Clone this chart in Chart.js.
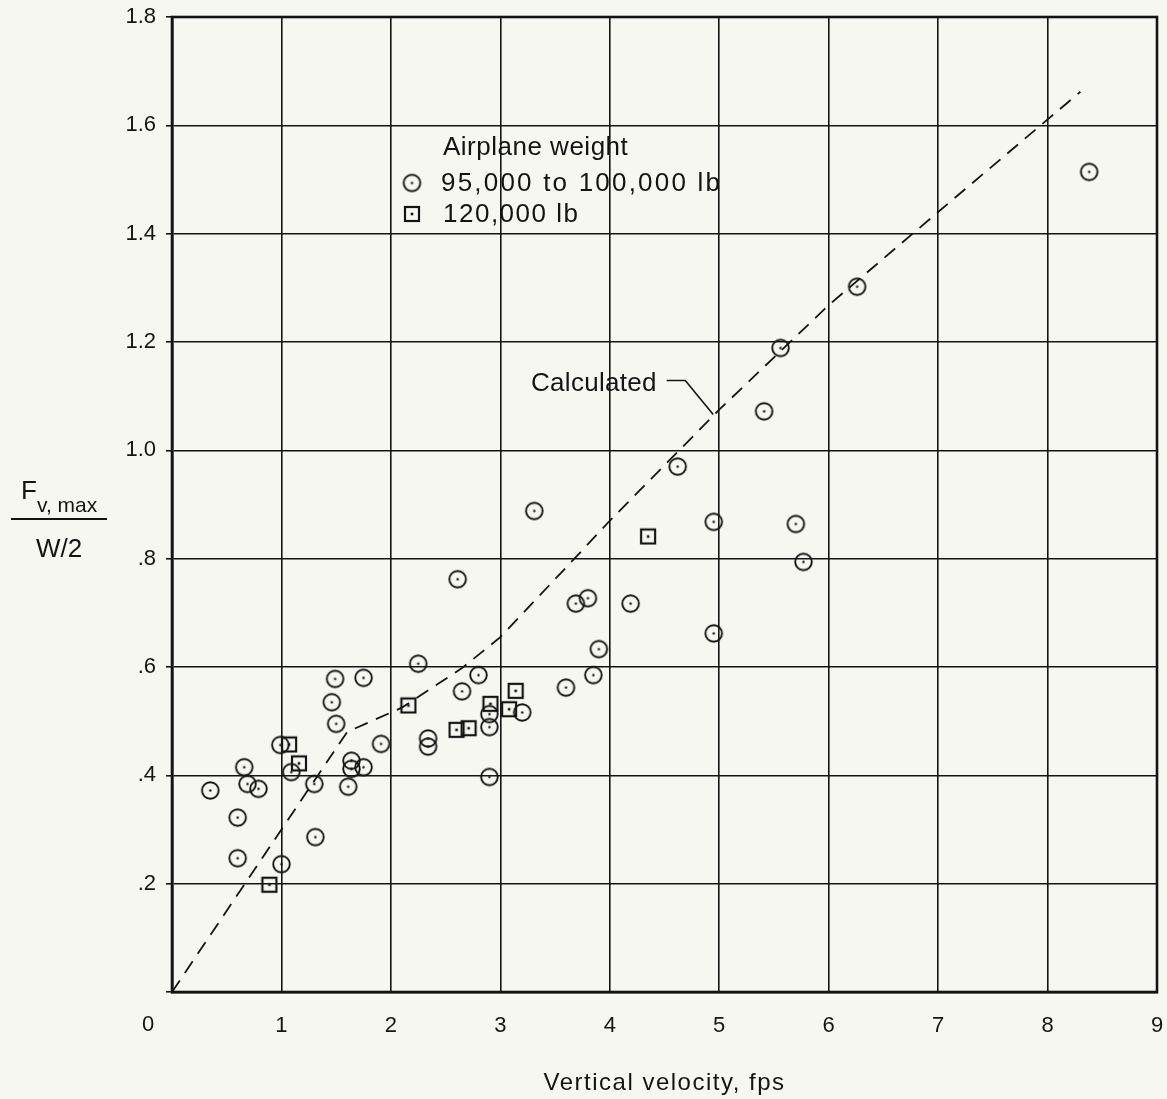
<!DOCTYPE html>
<html>
<head>
<meta charset="utf-8">
<script src="https://cdn.jsdelivr.net/npm/chart.js@4.4.1/dist/chart.umd.min.js"></script>
<style>
  html, body { margin: 0; padding: 0; background: #f7f7f2; }
  #wrap { width: 1167px; height: 1099px; }
</style>
</head>
<body>
<div id="wrap"><canvas id="landingChart" width="1167" height="1099"></canvas></div>
<script>
// Airplane weight 95,000 to 100,000 lb (circles)
var lightX = [0.35, 0.60, 0.60, 0.66, 0.69, 0.79, 0.99, 1.00, 1.09, 1.30, 1.31, 1.46, 1.49, 1.50, 1.61, 1.64, 1.64,
              1.75, 1.75, 1.91, 2.25, 2.34, 2.34, 2.61, 2.65, 2.80, 2.90, 2.90, 2.90, 3.20, 3.31, 3.60, 3.69,
              3.80, 3.85, 3.90, 4.19, 4.62, 4.95, 4.95, 5.41, 5.56, 5.70, 5.77, 6.26, 8.38];
var lightY = [0.372, 0.322, 0.247, 0.415, 0.384, 0.375, 0.456, 0.236, 0.406, 0.384, 0.286, 0.535, 0.578, 0.495, 0.379, 0.427, 0.412,
              0.580, 0.415, 0.458, 0.606, 0.468, 0.453, 0.762, 0.555, 0.585, 0.513, 0.489, 0.397, 0.516, 0.888, 0.562, 0.717,
              0.727, 0.585, 0.633, 0.717, 0.970, 0.868, 0.662, 1.072, 1.189, 0.864, 0.794, 1.302, 1.514];

// Airplane weight 120,000 lb (squares)
var heavyX = [0.89, 1.07, 1.16, 2.16, 2.60, 2.71, 2.91, 3.08, 3.14, 4.35];
var heavyY = [0.198, 0.457, 0.422, 0.529, 0.484, 0.487, 0.532, 0.522, 0.556, 0.841];

// Calculated curve (dashed)
var calcX = [0, 1.6, 2.1, 2.65, 3.0, 3.7, 4.0, 5.0, 6.0, 7.0, 8.3];
var calcY = [0, 0.48, 0.525, 0.598, 0.655, 0.805, 0.87, 1.075, 1.268, 1.44, 1.662];

// axis ticks
var xTicks = [0, 1, 2, 3, 4, 5, 6, 7, 8, 9];
var yTickLabels = ['', '.2', '.4', '.6', '.8', '1.0', '1.2', '1.4', '1.6', '1.8'];

var ink = '#141414';
var paper = '#f7f7f2';
var font = '"Liberation Sans", Arial, sans-serif';

function toPoints(xs, ys) {
    return xs.map(function(x, i) { return { x: x, y: ys[i] }; });
}

// circle with a dot in the middle
function makeCircleMark(r) {
    var c = document.createElement('canvas');
    var s = Math.ceil(r * 2 + 4);
    c.width = s; c.height = s;
    var g = c.getContext('2d');
    g.strokeStyle = ink;
    g.lineWidth = 1.9;
    g.beginPath();
    g.arc(s / 2, s / 2, r, 0, Math.PI * 2);
    g.stroke();
    g.fillStyle = ink;
    g.beginPath();
    g.arc(s / 2, s / 2, 1.2, 0, Math.PI * 2);
    g.fill();
    return c;
}

// square with a dot in the middle
function makeSquareMark(h) {
    var c = document.createElement('canvas');
    var s = Math.ceil(h * 2 + 4);
    c.width = s; c.height = s;
    var g = c.getContext('2d');
    g.strokeStyle = ink;
    g.lineWidth = 2.2;
    g.strokeRect(s / 2 - h, s / 2 - h, h * 2, h * 2);
    g.fillStyle = ink;
    g.fillRect(s / 2 - 1.3, s / 2 - 1.3, 2.6, 2.6);
    return c;
}

var circleMark = makeCircleMark(8.3);
var squareMark = makeSquareMark(7);

function spacedText(ctx, text, x, y, spacing) {
    if ('letterSpacing' in ctx) ctx.letterSpacing = spacing + 'px';
    ctx.fillText(text, x, y);
    if ('letterSpacing' in ctx) ctx.letterSpacing = '0px';
}

// paper background, frame, legend, annotations, axis labels
var paperPlugin = {
    id: 'paperPlugin',
    beforeDraw: function(chart) {
        var ctx = chart.ctx;
        ctx.save();
        ctx.fillStyle = paper;
        ctx.fillRect(0, 0, chart.width, chart.height);
        ctx.restore();
    },
    afterDraw: function(chart) {
        var ctx = chart.ctx;
        var xs = chart.scales.x, ys = chart.scales.y;
        var area = chart.chartArea;
        ctx.save();
        ctx.fillStyle = ink;
        ctx.strokeStyle = ink;

        // outer frame
        ctx.lineWidth = 2.6;
        ctx.strokeRect(area.left, area.top, area.right - area.left, area.bottom - area.top);

        // legend
        ctx.font = '26px ' + font;
        ctx.textBaseline = 'middle';
        ctx.textAlign = 'left';
        spacedText(ctx, 'Airplane weight', 443, 148, 0.5);
        ctx.drawImage(circleMark, 412 - circleMark.width / 2, 183 - circleMark.height / 2);
        spacedText(ctx, '95,000 to 100,000 lb', 441, 184, 2.2);
        ctx.drawImage(squareMark, 412 - squareMark.width / 2, 214 - squareMark.height / 2);
        spacedText(ctx, '120,000 lb', 443, 215, 1.5);

        // "Calculated" with leader to the dashed curve
        spacedText(ctx, 'Calculated', 531, 384, 0.3);
        ctx.lineWidth = 1.6;
        ctx.beginPath();
        ctx.moveTo(xs.getPixelForValue(4.52), ys.getPixelForValue(1.129));
        ctx.lineTo(xs.getPixelForValue(4.69), ys.getPixelForValue(1.129));
        ctx.lineTo(xs.getPixelForValue(4.945), ys.getPixelForValue(1.066));
        ctx.stroke();

        // origin label
        ctx.font = '22px ' + font;
        ctx.textAlign = 'center';
        ctx.fillText('0', 148, 1025);

        // x axis title
        ctx.font = '24px ' + font;
        ctx.textBaseline = 'alphabetic';
        spacedText(ctx, 'Vertical velocity, fps', (area.left + area.right) / 2, 1090, 1.5);

        // y axis title as a fraction
        ctx.textAlign = 'left';
        ctx.font = '26px ' + font;
        ctx.fillText('F', 21, 499);
        ctx.font = '21px ' + font;
        ctx.fillText('v, max', 37, 512);
        ctx.lineWidth = 2;
        ctx.beginPath();
        ctx.moveTo(11, 519);
        ctx.lineTo(107, 519);
        ctx.stroke();
        ctx.font = '26px ' + font;
        ctx.fillText('W/2', 36, 557);
        ctx.restore();
    }
};

var ctx1 = document.getElementById('landingChart').getContext('2d');
new Chart(ctx1, {
    type: 'scatter',
    data: {
        datasets: [{
            label: '95,000 to 100,000 lb',
            data: toPoints(lightX, lightY),
            pointStyle: circleMark,
            pointRadius: 9,
            order: 2
        }, {
            label: '120,000 lb',
            data: toPoints(heavyX, heavyY),
            pointStyle: squareMark,
            pointRadius: 8,
            order: 1
        }, {
            label: 'Calculated',
            type: 'line',
            data: toPoints(calcX, calcY),
            showLine: true,
            borderColor: ink,
            borderWidth: 1.8,
            borderDash: [14, 9],
            pointRadius: 0,
            tension: 0,
            fill: false,
            order: 3
        }]
    },
    options: {
        responsive: false,
        animation: false,
        events: [],
        layout: { padding: { top: 17, right: 9, left: 0, bottom: 0 } },
        plugins: {
            legend: { display: false },
            tooltip: { enabled: false }
        },
        scales: {
            x: {
                type: 'linear',
                min: 0,
                max: 9,
                afterBuildTicks: function(scale) {
                    scale.ticks = xTicks.map(function(v) { return { value: v }; });
                },
                afterFit: function(scale) {
                    scale.height = 107;
                    scale.paddingLeft = 0;
                    scale.paddingRight = 0;
                },
                ticks: {
                    autoSkip: false,
                    maxRotation: 0,
                    padding: 21,
                    color: ink,
                    font: { family: font, size: 22 },
                    callback: function(v) { return v === 0 ? '' : String(v); }
                },
                grid: { color: ink, lineWidth: 1.6, drawTicks: false },
                border: { color: ink, width: 2.6 }
            },
            y: {
                type: 'linear',
                min: 0,
                max: 1.8,
                afterBuildTicks: function(scale) {
                    scale.ticks = yTickLabels.map(function(t, i) { return { value: i * 0.2 }; });
                },
                afterFit: function(scale) {
                    scale.width = 172;
                    scale.paddingTop = 0;
                    scale.paddingBottom = 0;
                },
                ticks: {
                    autoSkip: false,
                    padding: 10,
                    color: ink,
                    font: { family: font, size: 22 },
                    callback: function(v, i) { return yTickLabels[i]; }
                },
                grid: { color: ink, lineWidth: 1.6, tickLength: 6 },
                border: { color: ink, width: 2.6 }
            }
        }
    },
    plugins: [paperPlugin]
});
</script>
</body>
</html>
